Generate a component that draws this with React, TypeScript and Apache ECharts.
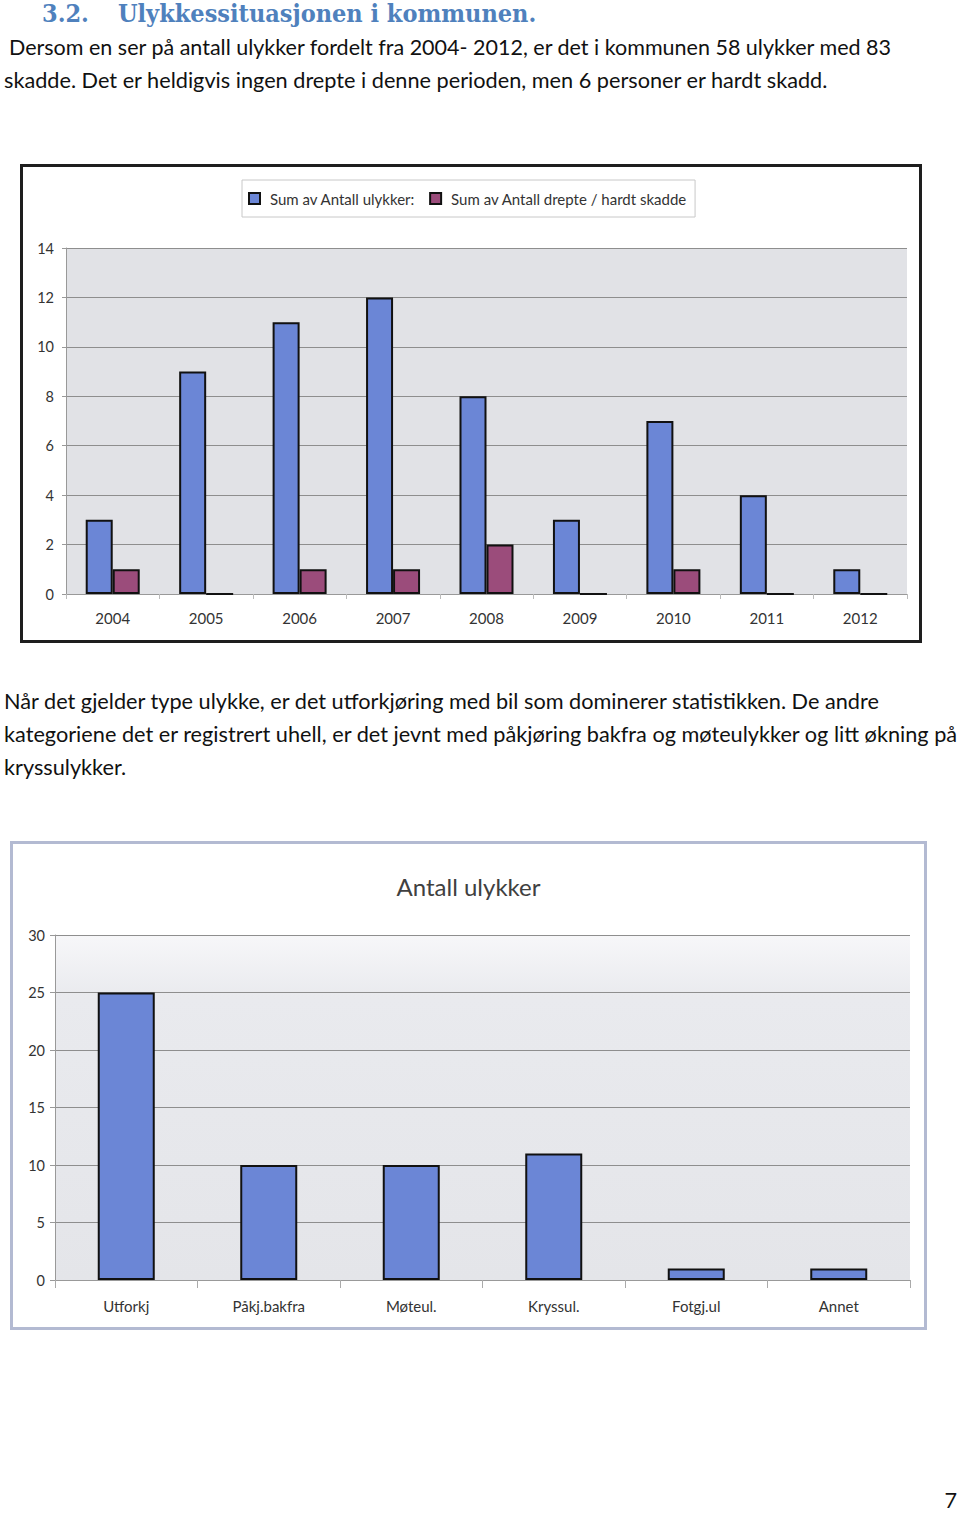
import React, { useEffect, useRef } from "react";
import * as echarts from "echarts";

const years = ["2004", "2005", "2006", "2007", "2008", "2009", "2010", "2011", "2012"];
const ulykker = [3, 9, 11, 12, 8, 3, 7, 4, 1];
const drepteHardtSkadd = [1, 0, 1, 1, 2, 0, 1, 0, 0];
const seriesNames1 = ["Sum av Antall ulykker:", "Sum av Antall drepte / hardt skadde"];

const typer = ["Utforkj", "Påkj.bakfra", "Møteul.", "Kryssul.", "Fotgj.ul", "Annet"];
const antallType = [25, 10, 10, 11, 1, 1];
const title2 = "Antall ulykker";

const BLUE = "#6b86d6";
const PURPLE = "#9b4c7b";
const FONT = "Lato, 'Open Sans', sans-serif";

function Chart1() {
  const ref = useRef<HTMLDivElement>(null);
  useEffect(() => {
    const chart = echarts.init(ref.current!, null, { renderer: "svg" });
    chart.setOption({
      animation: false,
      textStyle: { fontFamily: FONT },
      legend: {
        top: 13,
        left: 219,
        backgroundColor: "#fff",
        borderColor: "#c8c8c8",
        borderWidth: 1,
        padding: [11, 8, 11, 6],
        itemWidth: 11,
        itemHeight: 11,
        itemGap: 14,
        icon: "rect",
        textStyle: { fontSize: 15, color: "#333", fontFamily: FONT, padding: [0, 0, 0, 5] },
        data: seriesNames1,
      },
      grid: {
        left: 43,
        right: 12,
        top: 81,
        bottom: 46,
        show: true,
        backgroundColor: "#e1e2e6",
        borderWidth: 0,
      },
      xAxis: {
        type: "category",
        data: years,
        axisLine: { lineStyle: { color: "#999" } },
        axisTick: { show: true, alignWithLabel: false, lineStyle: { color: "#bbb" } },
        axisLabel: { fontSize: 15, color: "#333", margin: 16, fontFamily: FONT },
      },
      yAxis: {
        type: "value",
        min: 0,
        max: 14,
        interval: 2,
        axisLine: { show: true, lineStyle: { color: "#999" } },
        axisTick: { show: true, length: 4, lineStyle: { color: "#999" } },
        axisLabel: { fontSize: 14.5, color: "#333", margin: 12, fontFamily: FONT },
        splitLine: { lineStyle: { color: "#8e8e8e", width: 1 } },
      },
      series: [
        {
          name: seriesNames1[0],
          type: "bar",
          data: ulykker,
          barWidth: 27,
          barGap: "0%",
          itemStyle: { color: BLUE, borderColor: "#111", borderWidth: 2 },
        },
        {
          name: seriesNames1[1],
          type: "bar",
          data: drepteHardtSkadd,
          barWidth: 27,
          itemStyle: { color: PURPLE, borderColor: "#111", borderWidth: 2 },
        },
      ],
    });
    return () => chart.dispose();
  }, []);
  return <div ref={ref} style={{ width: 896, height: 473 }} />;
}

function Chart2() {
  const ref = useRef<HTMLDivElement>(null);
  useEffect(() => {
    const chart = echarts.init(ref.current!, null, { renderer: "svg" });
    chart.setOption({
      animation: false,
      textStyle: { fontFamily: FONT },
      title: {
        text: title2,
        left: "center",
        top: 25,
        textStyle: { fontSize: 24, fontWeight: "normal", color: "#404040", fontFamily: FONT },
      },
      grid: {
        left: 42,
        right: 14,
        top: 91,
        bottom: 47,
        show: true,
        borderWidth: 0,
        backgroundColor: {
          type: "linear",
          x: 0,
          y: 0,
          x2: 0,
          y2: 1,
          colorStops: [
            { offset: 0, color: "#f7f7f9" },
            { offset: 0.18, color: "#e9eaee" },
            { offset: 1, color: "#e4e5e9" },
          ],
        },
      },
      xAxis: {
        type: "category",
        data: typer,
        axisLine: { lineStyle: { color: "#999" } },
        axisTick: { show: true, length: 8, lineStyle: { color: "#aaa" } },
        axisLabel: { fontSize: 15, color: "#333", margin: 18, fontFamily: FONT },
      },
      yAxis: {
        type: "value",
        min: 0,
        max: 30,
        interval: 5,
        axisLine: { show: true, lineStyle: { color: "#999" } },
        axisTick: { show: true, length: 5, lineStyle: { color: "#999" } },
        axisLabel: { fontSize: 14.5, color: "#333", margin: 10, fontFamily: FONT },
        splitLine: { lineStyle: { color: "#8e8e8e", width: 1 } },
      },
      series: [
        {
          name: title2,
          type: "bar",
          data: antallType,
          barWidth: 57,
          itemStyle: { color: BLUE, borderColor: "#111", borderWidth: 2 },
        },
      ],
    });
    return () => chart.dispose();
  }, []);
  return <div ref={ref} style={{ width: 911, height: 483 }} />;
}

const pStyle: React.CSSProperties = {
  position: "absolute",
  left: 4,
  fontFamily: "Lato, 'Open Sans', sans-serif",
  fontSize: 21.7,
  color: "#111",
  whiteSpace: "nowrap",
  lineHeight: "26px",
};

export default function App() {
  return (
    <div style={{ position: "absolute", left: 0, top: 0, width: 960, height: 1515, background: "#fff", overflow: "hidden" }}>
      <div
        style={{
          position: "absolute",
          left: 42,
          top: 0,
          fontFamily: "'DejaVu Serif Condensed', 'Liberation Serif', serif",
          fontWeight: "bold",
          fontSize: 25,
          color: "#4f81bd",
          whiteSpace: "nowrap",
          lineHeight: "28px",
        }}
      >
        <span>3.2.</span>
        <span style={{ marginLeft: 29 }}>Ulykkessituasjonen i kommunen.</span>
      </div>
      <div style={{ ...pStyle, left: 9, top: 34, fontSize: 21.5 }}>
        Dersom en ser på antall ulykker fordelt fra 2004- 2012, er det i kommunen 58 ulykker med 83
      </div>
      <div style={{ ...pStyle, top: 67 }}>
        skadde. Det er heldigvis ingen drepte i denne perioden, men 6 personer er hardt skadd.
      </div>

      <div
        style={{
          position: "absolute",
          left: 20,
          top: 164,
          width: 902,
          height: 479,
          border: "3px solid #1e1e1e",
          boxSizing: "border-box",
          background: "#fff",
        }}
      >
        <Chart1 />
      </div>

      <div style={{ ...pStyle, top: 688 }}>
        Når det gjelder type ulykke, er det utforkjøring med bil som dominerer statistikken. De andre
      </div>
      <div style={{ ...pStyle, top: 721 }}>
        kategoriene det er registrert uhell, er det jevnt med påkjøring bakfra og møteulykker og litt økning på
      </div>
      <div style={{ ...pStyle, top: 754 }}>kryssulykker.</div>

      <div
        style={{
          position: "absolute",
          left: 10,
          top: 841,
          width: 917,
          height: 489,
          border: "3px solid #b3bad2",
          boxSizing: "border-box",
          background: "#fff",
        }}
      >
        <Chart2 />
      </div>

      <div style={{ ...pStyle, left: 930, width: 27, textAlign: "right", top: 1487, lineHeight: "26px" }}>7</div>
    </div>
  );
}
